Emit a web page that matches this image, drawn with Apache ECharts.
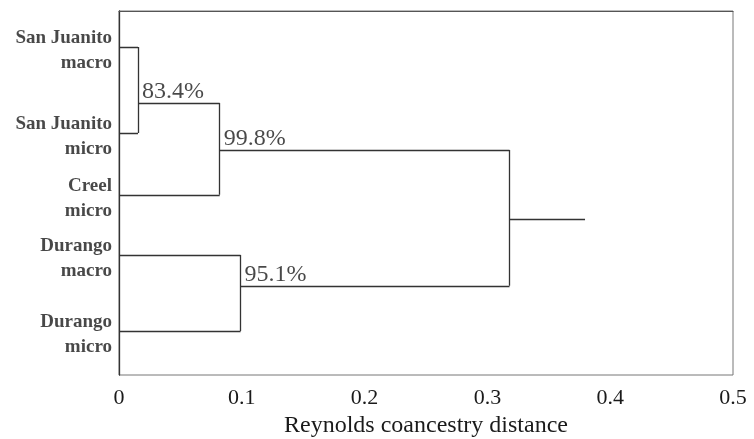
<!DOCTYPE html>
<html>
<head>
<meta charset="utf-8">
<script src="https://cdn.jsdelivr.net/npm/echarts@6/dist/echarts.min.js"></script>
<style>html,body{margin:0;padding:0;background:#fff}#c{width:754px;height:439px}</style>
</head>
<body>
<div id="c"></div>
<script>
// Leaves (top to bottom) and their vertical positions (0 = top, 100 = bottom)
var leafNames = ['San Juanito\nmacro', 'San Juanito\nmicro', 'Creel\nmicro', 'Durango\nmacro', 'Durango\nmicro'];
var leafPos = [9.9, 33.5, 50.5, 67.0, 87.9];

// Merges: children ('L#' leaf, 'N#' earlier merge), distance, vertical position of the outgoing branch
var mergeChildren = [['L0', 'L1'], ['N0', 'L2'], ['L3', 'L4'], ['N1', 'N2']];
var mergeHeights = [0.0155, 0.082, 0.099, 0.318];
var mergeBranchPos = [25.3, 38.2, 75.5, 57.1];
var mergeLabels = ['83.4%', '99.8%', '95.1%', ''];
var rootTail = 0.3795;

// x-axis ticks
var xTicks = [0, 0.1, 0.2, 0.3, 0.4, 0.5];

function childPoint(id) {
  var i = +id.slice(1);
  if (id[0] === 'L') return [0, leafPos[i]];
  return [mergeHeights[i], mergeBranchPos[i]];
}

var segs = [];
mergeChildren.forEach(function (ch, i) {
  var h = mergeHeights[i];
  var a = childPoint(ch[0]), b = childPoint(ch[1]);
  segs.push({coords: [[a[0], a[1]], [h, a[1]]]});
  segs.push({coords: [[b[0], b[1]], [h, b[1]]]});
  segs.push({coords: [[h, a[1]], [h, b[1]]]});
});
var last = mergeHeights.length - 1;
segs.push({coords: [[mergeHeights[last], mergeBranchPos[last]], [rootTail, mergeBranchPos[last]]]});

var leafData = leafNames.map(function (n, i) { return {name: n, value: [0, leafPos[i]]}; });
var nodeData = mergeLabels.map(function (t, i) { return {name: t, value: [mergeHeights[i], mergeBranchPos[i]]}; });

var font = '"Liberation Serif", "Times New Roman", serif';
var chart = echarts.init(document.getElementById('c'));
chart.setOption({
  animation: false,
  grid: {left: 119, right: 21, top: 11, bottom: 64, show: true, borderColor: '#777', borderWidth: 1,
         containLabel: false, outerBoundsMode: 'none'},
  xAxis: {
    type: 'value', min: xTicks[0], max: xTicks[xTicks.length - 1], interval: 0.1,
    axisLine: {show: true, lineStyle: {color: '#555', width: 1}},
    axisTick: {show: false}, splitLine: {show: false},
    axisLabel: {fontFamily: font, fontSize: 22, color: '#1a1a1a', margin: 12},
    name: 'Reynolds coancestry distance', nameLocation: 'middle', nameGap: 38,
    nameTextStyle: {fontFamily: font, fontSize: 24, color: '#1a1a1a'}
  },
  yAxis: {
    type: 'value', min: 0, max: 100, inverse: true,
    axisLine: {show: true, lineStyle: {color: '#333', width: 1.3}},
    axisTick: {show: false}, axisLabel: {show: false}, splitLine: {show: false}
  },
  series: [
    {
      type: 'lines', coordinateSystem: 'cartesian2d', polyline: false,
      lineStyle: {color: '#333', width: 1.3, opacity: 1},
      data: segs, silent: true, z: 3
    },
    {
      type: 'scatter', symbolSize: 0, data: leafData, silent: true,
      label: {
        show: true, position: 'left', distance: 7, offset: [0, 4],
        formatter: function (p) { return p.name; },
        fontFamily: font, fontSize: 19, fontWeight: 'bold', color: '#1a1a1a',
        align: 'right', lineHeight: 25
      }
    },
    {
      type: 'scatter', symbolSize: 0, data: nodeData, silent: true,
      label: {
        show: true, position: [4, -11], align: 'left', verticalAlign: 'middle',
        formatter: function (p) { return p.name; },
        fontFamily: font, fontSize: 24, color: '#1a1a1a'
      }
    }
  ]
});
</script>
</body>
</html>
